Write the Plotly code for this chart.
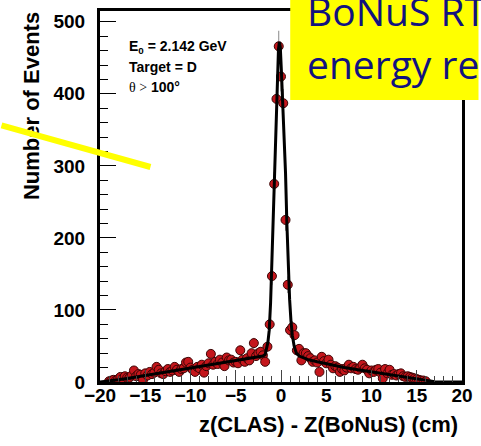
import numpy as np
import plotly.graph_objects as go

# histogram bin centres (cm) and counts
bin_start, bin_stop, bin_width = -19.0, 16.0, 0.25
counts = [
    1, 2, 3, 2, 4, 7, 5, 8,
    6, 6, 9, 16, 8, 11, 10, 3,
    12, 9, 14, 11, 13, 21, 17, 12,
    11, 15, 18, 14, 16, 21, 17, 14,
    18, 19, 27, 28, 20, 17, 14, 21,
    19, 24, 13, 22, 26, 39, 24, 28,
    25, 31, 27, 22, 34, 30, 31, 27,
    28, 26, 44, 31, 28, 33, 30, 40,
    54, 36, 40, 42, 37, 28, 49, 80,
    147, 275, 393, 466, 424, 387, 225, 135,
    72, 76, 65, 44, 46, 30, 40, 40,
    36, 33, 28, 30, 27, 14, 35, 29,
    26, 31, 24, 19, 22, 20, 14, 18,
    16, 20, 24, 19, 21, 18, 17, 20,
    24, 19, 17, 12, 16, 14, 17, 18,
    13, 5, 18, 12, 17, 10, 11, 9,
    11, 12, 8, 7, 8, 7, 6, 5,
    4, 3, 2, 2, 1,
]
bin_centres = np.arange(bin_start, bin_stop + bin_width / 2, bin_width)
assert len(bin_centres) == len(counts)

# fit curve
fit_x = [-20, -19.5, -19, -18, -17, -16, -15, -14, -13, -12, -11, -10, -9, -8, -7, -6, -5, -4, -3, -2.5,
         -2, -1.75, -1.6, -1.45, -1.3, -1.15, -1.0, -0.85, -0.7, -0.55, -0.4, -0.28, -0.18, -0.08, 0.05,
         0.2, 0.35, 0.5, 0.65, 0.8, 0.95, 1.1, 1.25, 1.45, 1.7, 2.0, 2.5, 3, 4, 5, 6, 7, 8, 9, 10, 11,
         12, 13, 14, 15, 16, 17, 18, 20]
fit_y = [0, 0.5, 1, 3, 5, 7, 9, 11, 13, 15, 17, 19, 21, 23, 25, 27, 29, 31, 33, 34,
         36, 38, 45, 55, 72, 110, 170, 230, 295, 360, 425, 462, 472, 465, 430,
         390, 345, 290, 220, 160, 115, 85, 65, 50, 40, 36, 33, 31, 28, 25, 22, 20, 18, 16, 15, 13,
         11, 9, 6, 4, 2, 0.5, 0, 0]

x_ticks = [-20, -15, -10, -5, 0, 5, 10, 15, 20]
y_ticks = [0, 100, 200, 300, 400, 500]

W, H = 481, 446
L, R, T, B = 100, 8, 11, 64
pw, ph = W - L - R, H - T - B


def px(xp):
    return (xp - L) / pw


def py(yp):
    return (H - B - yp) / ph


fig = go.Figure()
fig.add_trace(go.Scatter(
    x=bin_centres, y=counts, mode="markers",
    marker=dict(size=9, color="#c4161c", line=dict(color="#3d0505", width=1)),
    error_y=dict(type="data", array=np.sqrt(counts), color="#888888", thickness=1, width=0),
    showlegend=False,
))
fig.add_trace(go.Scatter(
    x=fit_x, y=fit_y, mode="lines", line=dict(color="black", width=3), showlegend=False,
))

font_b = dict(family="Liberation Sans, Arial, sans-serif", color="black", weight="bold")

fig.update_layout(
    width=W, height=H,
    margin=dict(l=L, r=R, t=T, b=B, pad=0),
    plot_bgcolor="white", paper_bgcolor="white",
    xaxis=dict(
        range=[-20, 20], tickvals=x_ticks, ticks="inside", ticklen=12, tickcolor="#444",
        tickwidth=1, showgrid=False, zeroline=False, showline=True, linecolor="black",
        linewidth=3, mirror=True, tickfont=dict(size=19, **font_b), ticklabelstandoff=-6,
        minor=dict(dtick=1, tick0=0, ticks="inside", ticklen=6, tickcolor="#444", tickwidth=1,
                   showgrid=False),
    ),
    yaxis=dict(
        range=[0, 515], tickvals=y_ticks, ticks="inside", ticklen=16, tickcolor="black",
        tickwidth=1, showgrid=False, zeroline=False, showline=True, linecolor="black",
        linewidth=3, mirror=True, tickfont=dict(size=19, **font_b), ticklabelstandoff=8,
        minor=dict(dtick=20, tick0=0, ticks="inside", ticklen=8, tickcolor="black", tickwidth=1,
                   showgrid=False),
    ),
)

# yellow box
fig.add_shape(type="rect", xref="paper", yref="paper", x0=px(296), x1=px(490), y0=py(100), y1=py(-10),
              fillcolor="#ffff00", line=dict(width=0), layer="above")

ann = []
# axis titles
ann.append(dict(text="z(CLAS) - Z(BoNuS) (cm)", xref="paper", yref="paper", x=px(471), y=py(425),
                xanchor="right", yanchor="middle", showarrow=False, font=dict(size=22, **font_b)))
ann.append(dict(text="Number of Events", xref="paper", yref="paper", x=px(29), y=py(106),
                xanchor="center", yanchor="middle", textangle=-90, showarrow=False,
                font=dict(size=22, **font_b)))
# info text
info_font = dict(size=14, **font_b)
ann.append(dict(text="E<sub>0</sub> = 2.142 GeV", xref="paper", yref="paper", x=px(128), y=py(47),
                xanchor="left", yanchor="middle", showarrow=False, font=info_font))
ann.append(dict(text="Target = D", xref="paper", yref="paper", x=px(128), y=py(67),
                xanchor="left", yanchor="middle", showarrow=False, font=info_font))
ann.append(dict(text="<span style='font-family:Liberation Serif;font-weight:normal'>θ &gt;</span> 100°",
                xref="paper", yref="paper", x=px(128), y=py(87),
                xanchor="left", yanchor="middle", showarrow=False, font=info_font))
# yellow pointer line
ann.append(dict(text="", xref="paper", yref="paper", x=px(152), y=py(167), ax=-152, ay=-42,
                showarrow=True, arrowhead=0, arrowwidth=6, arrowcolor="#ffff00",
                standoff=0, startstandoff=0))
# box text
box_font = dict(family="Open Sans, Lato, sans-serif", size=39, color="#12127f")
ann.append(dict(text="BoNuS RT", xref="paper", yref="paper", x=px(311), y=py(10),
                xanchor="left", yanchor="middle", showarrow=False, font=box_font))
ann.append(dict(text="energy re", xref="paper", yref="paper", x=px(311), y=py(63),
                xanchor="left", yanchor="middle", showarrow=False, font=box_font))
fig.update_layout(annotations=ann)

fig.write_html("out.html")
